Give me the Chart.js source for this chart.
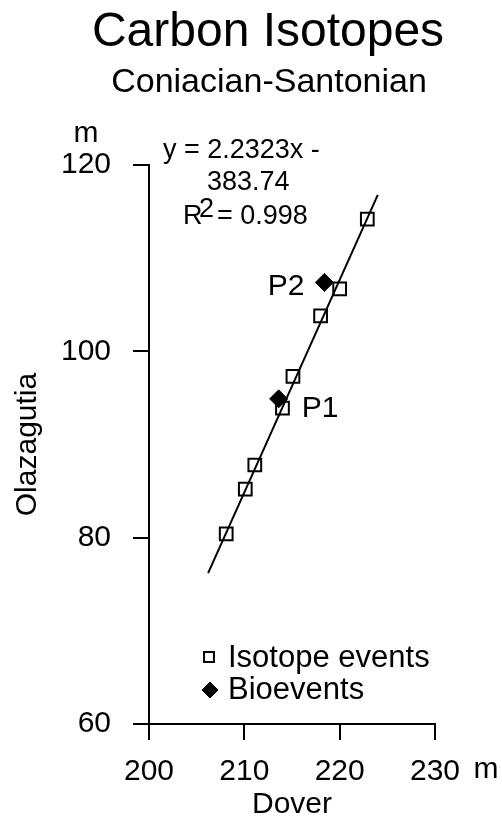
<!DOCTYPE html>
<html>
<head>
<meta charset="utf-8">
<script src="https://cdn.jsdelivr.net/npm/chart.js@4"></script>
<style>
  html, body { margin: 0; padding: 0; background: #fff; }
</style>
</head>
<body>
<canvas id="chart" width="502" height="820"></canvas>
<script>
// Dover (x) vs Olazagutia (y), metres
const isotopeX = [208.1, 210.1, 211.1, 214.0, 215.1, 218.0, 220.0, 222.9];
const isotopeY = [80.4, 85.2, 87.8, 93.9, 97.3, 103.8, 106.7, 114.2];
const bioNames = ['P1', 'P2'];
const bioX = [213.6, 218.4];
const bioY = [94.9, 107.4];
// trend line ends as drawn
const trendX = [206.2, 224.0];
const trendY = [76.2, 116.8];
const xTicks = [200, 210, 220, 230];
const yTicks = [60, 80, 100, 120];

const FONT = '"Liberation Sans", Arial, sans-serif';

const toPts = (xs, ys) => xs.map((x, i) => ({ x: x, y: ys[i] }));

// titles, equation, labels and legend
const extras = {
  id: 'extras',
  beforeDraw(chart) {
    const ctx = chart.ctx;
    ctx.save();
    ctx.fillStyle = '#fff';
    ctx.fillRect(0, 0, chart.width, chart.height);
    ctx.restore();
  },
  afterDraw(chart) {
    const ctx = chart.ctx;
    const xs = chart.scales.x, ys = chart.scales.y;
    ctx.save();
    ctx.fillStyle = '#000';
    ctx.textBaseline = 'middle';

    ctx.textAlign = 'center';
    ctx.font = '48px ' + FONT;
    ctx.fillText('Carbon Isotopes', 268, 33);
    ctx.font = '34px ' + FONT;
    ctx.fillText('Coniacian-Santonian', 269, 83);

    // unit labels
    ctx.font = '30px ' + FONT;
    ctx.fillText('m', 86, 134);
    ctx.fillText('m', 486, 770);

    // regression equation
    ctx.font = '27px ' + FONT;
    ctx.textAlign = 'left';
    ctx.fillText('y = 2.2323x -', 163, 151);
    ctx.fillText('383.74', 207, 183);
    ctx.fillText('R', 183, 217);
    ctx.fillText('2', 199, 210);
    ctx.fillText('= 0.998', 217, 217);

    // bioevent labels
    ctx.font = '30px ' + FONT;
    const p1 = [xs.getPixelForValue(bioX[0]), ys.getPixelForValue(bioY[0])];
    const p2 = [xs.getPixelForValue(bioX[1]), ys.getPixelForValue(bioY[1])];
    ctx.fillText(bioNames[0], p1[0] + 23, p1[1] + 10);
    ctx.textAlign = 'right';
    ctx.fillText(bioNames[1], p2[0] - 20, p2[1] + 4);

    // legend
    ctx.textAlign = 'left';
    ctx.font = '31px ' + FONT;
    const ds = chart.data.datasets;
    ctx.fillStyle = '#fff';
    ctx.strokeStyle = '#000';
    ctx.lineWidth = 2;
    Chart.helpers.drawPoint(ctx, { pointStyle: 'rect', radius: 7, borderWidth: 2 }, 209, 657);
    ctx.fillStyle = '#000';
    ctx.fillText(ds[0].label, 228, 658);
    ctx.lineWidth = 1;
    Chart.helpers.drawPoint(ctx, { pointStyle: 'rectRot', radius: 8, borderWidth: 1 }, 210, 690);
    ctx.fillText(ds[1].label, 228, 690);
    ctx.restore();
  }
};

new Chart(document.getElementById('chart'), {
  type: 'scatter',
  data: {
    datasets: [
      {
        label: 'Isotope events',
        data: toPts(isotopeX, isotopeY),
        pointStyle: 'rect',
        pointRadius: 9,
        pointBorderWidth: 2,
        pointBackgroundColor: 'rgba(255,255,255,0)',
        pointBorderColor: '#000',
        order: 1
      },
      {
        label: 'Bioevents',
        data: toPts(bioX, bioY),
        pointStyle: 'rectRot',
        pointRadius: 9,
        pointBorderWidth: 1,
        pointBackgroundColor: '#000',
        pointBorderColor: '#000',
        order: 0
      },
      {
        label: 'trend',
        type: 'line',
        data: toPts(trendX, trendY),
        borderColor: '#000',
        borderWidth: 2,
        pointRadius: 0,
        fill: false,
        order: 2
      }
    ]
  },
  options: {
    responsive: false,
    animation: false,
    layout: { padding: { top: 165, right: 67, left: 0, bottom: 0 } },
    plugins: {
      legend: { display: false },
      tooltip: { enabled: false }
    },
    scales: {
      x: {
        type: 'linear',
        min: 200,
        max: 230,
        afterBuildTicks: s => { s.ticks = xTicks.map(v => ({ value: v })); },
        afterFit: s => { s.height = 96; },
        border: { color: '#000', width: 2 },
        grid: { drawOnChartArea: false, color: '#000', lineWidth: 2, tickLength: 16 },
        ticks: { color: '#000', font: { family: FONT, size: 30 }, padding: 14, maxRotation: 0 },
        title: { display: true, text: 'Dover', color: '#000', font: { family: FONT, size: 30, lineHeight: 1 }, padding: 0 }
      },
      y: {
        type: 'linear',
        min: 60,
        max: 120,
        afterBuildTicks: s => { s.ticks = yTicks.map(v => ({ value: v })); },
        afterFit: s => { s.width = 149; },
        border: { color: '#000', width: 2 },
        grid: { drawOnChartArea: false, color: '#000', lineWidth: 2, tickLength: 16 },
        ticks: { color: '#000', font: { family: FONT, size: 30 }, padding: 22 },
        title: { display: true, text: 'Olazagutia', color: '#000', font: { family: FONT, size: 30, lineHeight: 1 }, padding: { top: 13 } }
      }
    }
  },
  plugins: [extras]
});
</script>
</body>
</html>
